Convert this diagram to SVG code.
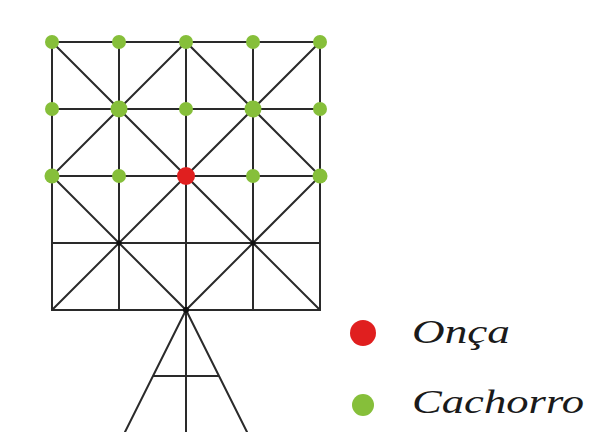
<svg xmlns="http://www.w3.org/2000/svg" width="589" height="432" viewBox="0 0 589 432">
<style>
.ln{stroke:#2a2a2a;stroke-width:2;fill:none;stroke-linecap:round}
.dog{fill:#86bf3a}
.jag{fill:#e01f1f}
.pt{fill:#111}
.lbl{font-family:"Liberation Serif",serif;font-style:italic;font-size:33px;fill:#1a1a1a}
</style>
<rect width="589" height="432" fill="#fff"/>
<g id="connectors">
<path class="ln" d="M52,42H320M52,109H320M52,176H320M52,243H320M52,310H320"/>
<path class="ln" d="M52,42V310M119,42V310M186,42V432M253,42V310M320,42V310"/>
<path class="ln" d="M52,42L320,310M320,42L52,310M186,42L52,176L186,310L320,176Z"/>
<path class="ln" d="M186,310L125,432M186,310L247,432M153,376H219"/>
</g>
<g id="board-points">
<circle class="pt" cx="119" cy="243" r="2.5"/>
<circle class="pt" cx="253" cy="243" r="2.5"/>
<circle class="pt" cx="186" cy="310" r="3"/>
</g>
<g id="dogs">
<circle class="dog" cx="52" cy="42" r="7"/>
<circle class="dog" cx="119" cy="42" r="7"/>
<circle class="dog" cx="186" cy="42" r="7"/>
<circle class="dog" cx="253" cy="42" r="7"/>
<circle class="dog" cx="320" cy="42" r="7"/>
<circle class="dog" cx="52" cy="109" r="7"/>
<circle class="dog" cx="119" cy="109" r="8.5"/>
<circle class="dog" cx="186" cy="109" r="7"/>
<circle class="dog" cx="253" cy="109" r="8.5"/>
<circle class="dog" cx="320" cy="109" r="7"/>
<circle class="dog" cx="52" cy="176" r="7.5"/>
<circle class="dog" cx="119" cy="176" r="7"/>
<circle class="dog" cx="253" cy="176" r="7"/>
<circle class="dog" cx="320" cy="176" r="7.5"/>
</g>
<g id="jaguar">
<circle class="jag" cx="186" cy="176" r="9"/>
</g>
<g id="legend-onca">
<circle class="jag" cx="363" cy="333" r="13"/>
<text class="lbl" x="412" y="343" textLength="98" lengthAdjust="spacingAndGlyphs">Onça</text>
</g>
<g id="legend-cachorro">
<circle class="dog" cx="363" cy="405" r="11"/>
<text class="lbl" x="412" y="413" textLength="172" lengthAdjust="spacingAndGlyphs">Cachorro</text>
</g>
</svg>
